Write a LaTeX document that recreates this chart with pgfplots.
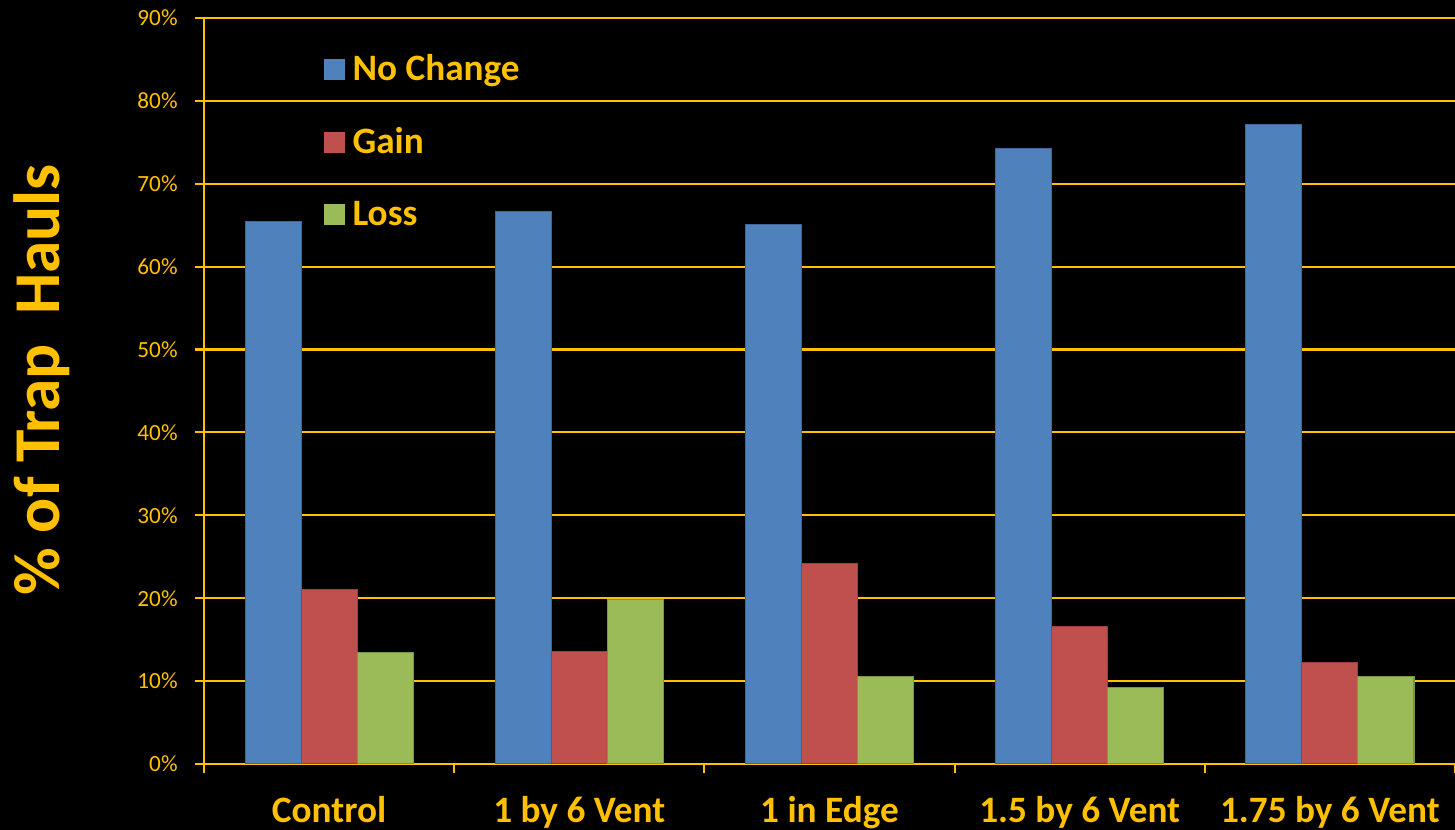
\documentclass[border=0pt]{standalone}
\usepackage{pgfplots}
\pgfplotsset{compat=1.18}
\usepackage{fontspec}
\setmainfont{Carlito}
\definecolor{gold}{HTML}{FFC000}
\definecolor{ncblue}{HTML}{4F81BD}
\definecolor{gainred}{HTML}{C0504D}
\definecolor{lossgreen}{HTML}{9BBB59}
\pgfdeclarelayer{bg}
\pgfsetlayers{bg,main}

\pgfplotstableread{
x nochange gain loss
0 65.4 21.1 13.5
1 66.6 13.6 19.8
2 65.1 24.2 10.6
3 74.2 16.6 9.2
4 77.2 12.2 10.6
}\hauls

\begin{document}
\begin{tikzpicture}
\begin{axis}[
    name=ax,
    scale only axis,
    width=125.1mm, height=74.6mm,
    ybar=0pt, bar width=0.224,
    xmin=-0.5, xmax=4.5,
    ymin=0, ymax=90,
    xtick={-0.5,0.5,...,4.5},
    x tick label as interval,
    xticklabels={Control,1 by 6 Vent,1 in Edge,1.5 by 6 Vent,1.75 by 6 Vent},
    ytick={0,10,...,90},
    yticklabel={\pgfmathprintnumber{\tick}\%},
    /pgf/number format/assume math mode=true,
    axis lines*=left,
    axis line style={gold, line width=0.6pt},
    tick align=outside,
    major tick length=0.9mm,
    tick style={gold, line width=0.6pt},
    ymajorgrids,
    grid style={gold, line width=0.6pt},
    ticklabel style={text=gold},
    yticklabel style={font=\fontsize{6.6}{7}\selectfont, xshift=-0.5mm},
    xticklabel style={font=\bfseries\fontsize{10.6}{12}\selectfont, yshift=-1.1mm},
    ylabel={\% of Trap\ \ Hauls},
    ylabel style={text=gold, font=\bfseries\fontsize{18.6}{20}\selectfont,
        at={(axis description cs:-0.1295,0.515)}, anchor=center},
    legend style={at={(rel axis cs:0.095,0.949)}, anchor=north west,
        draw=none, fill=none, inner sep=0pt, text=gold,
        font=\bfseries\fontsize{10.6}{12}\selectfont,
        row sep=4.05mm,
        nodes={inner sep=0pt, text height=2.4mm, text depth=0.8mm}},
    legend cell align=left,
    legend image code/.code={\fill[#1,draw=none] (0mm,-0.75mm) rectangle (2.1mm,1.35mm);
        \path[draw=none,fill=none] (0mm,0mm) -- (2.9mm,0mm);},
]
\addplot[fill=ncblue, draw=ncblue!80!black, line width=0.3pt] table[x=x, y=nochange] {\hauls};
\addplot[fill=gainred, draw=gainred!80!black, line width=0.3pt] table[x=x, y=gain] {\hauls};
\addplot[fill=lossgreen, draw=lossgreen!80!black, line width=0.3pt] table[x=x, y=loss] {\hauls};
\legend{No Change, Gain, Loss}
\end{axis}
\pgfresetboundingbox
\path ([shift={(-20.4mm,-6.6mm)}]ax.south west) rectangle ([shift={(0mm,1.8mm)}]ax.north east);
\begin{pgfonlayer}{bg}
\fill[black] ([shift={(-20.4mm,-6.6mm)}]ax.south west) rectangle ([shift={(0mm,1.8mm)}]ax.north east);
\end{pgfonlayer}
\end{tikzpicture}
\end{document}
